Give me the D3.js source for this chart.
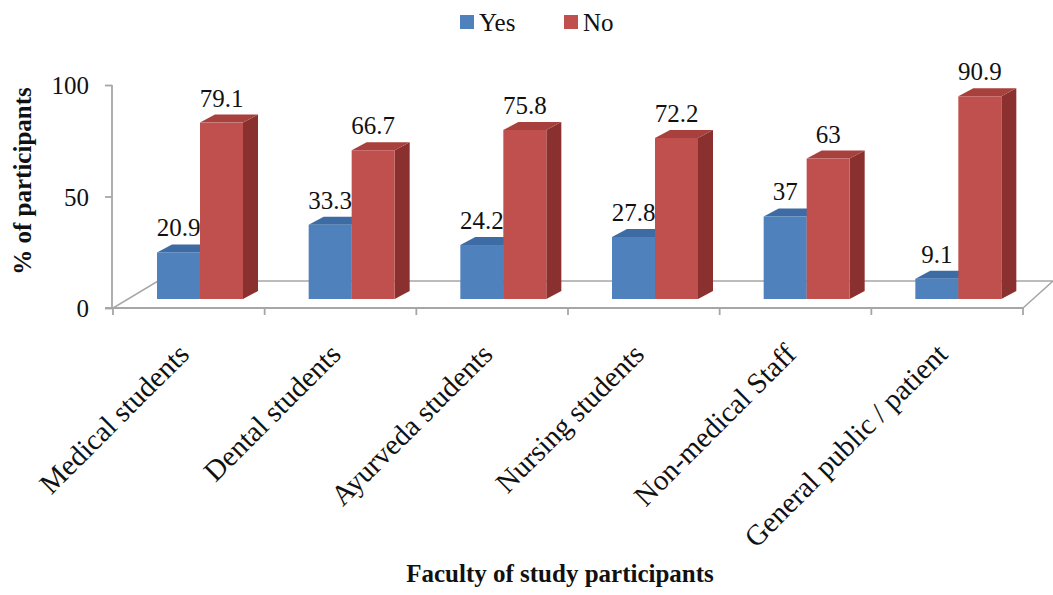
<!DOCTYPE html>
<html>
<head>
<meta charset="utf-8">
<script src="https://cdn.jsdelivr.net/npm/d3@7"></script>
<style>
  html, body { margin: 0; padding: 0; background: #fff; }
  svg { display: block; }
  svg text { font-family: "Liberation Serif", "Times New Roman", serif !important; }
</style>
</head>
<body>
<svg id="chart" width="1053" height="595"></svg>
<script>
// Faculty groups and the share of each answer (%)
const categories = ["Medical students", "Dental students", "Ayurveda students",
                    "Nursing students", "Non-medical Staff", "General public / patient"];
const seriesNames = ["Yes", "No"];
const yesValues = [20.9, 33.3, 24.2, 27.8, 37, 9.1];
const noValues  = [79.1, 66.7, 75.8, 72.2, 63, 90.9];
const yTicks = [0, 50, 100];

const data = categories.map((c, i) => ({ cat: c, values: [yesValues[i], noValues[i]] }));

const svg = d3.select("#chart");

// Front plane of the floor and the axis
const plotLeft = 113, plotRight = 1023;
const floorFront = 308, floorBack = 281;
const axisX = 112;

const x = d3.scaleBand().domain(categories).range([plotLeft, plotRight]).padding(0);
// axis scale (front edge of the floor) and bar scale (bars stand a little deeper)
const yAxisScale = d3.scaleLinear().domain([0, 100]).range([floorFront, 85]);
const barBase = 299;
const yBar = d3.scaleLinear().domain([0, 100]).range([barBase, barBase - (floorFront - 85)]);

const barOffset = 44, barW = 43;
const depthX = 15, depthY = -8;

const colors = {
  Yes: { front: "#4F81BD", top: "#3D6CA5", side: "#345E8E" },
  No:  { front: "#C0504D", top: "#A8403D", side: "#8A302E" }
};

// Floor
svg.append("polygon")
  .attr("points", [[plotLeft, floorFront], [plotRight, floorFront], [1053, floorBack], [158, floorBack]].join(" "))
  .attr("fill", "#fff")
  .attr("stroke", "#A6A6A6")
  .attr("stroke-width", 1.5);

// Value axis
const yAxis = d3.axisLeft(yAxisScale).tickValues(yTicks).tickSize(7).tickPadding(16)
  .tickFormat(d3.format("d"));
const gy = svg.append("g").attr("transform", `translate(${axisX},0)`).call(yAxis);
gy.select(".domain").attr("stroke", "#A6A6A6").attr("stroke-width", 1.8)
  .attr("d", `M0,${yAxisScale(100)}V${yAxisScale(0)}`);
gy.selectAll(".tick line").attr("stroke", "#A6A6A6").attr("stroke-width", 1.8);
gy.selectAll(".tick text").attr("font-size", 25).attr("fill", "#111").attr("dy", "0.34em");

// Category axis along the front of the floor
const boundaries = categories.map(c => x(c)).concat([plotRight]);
svg.append("line")
  .attr("x1", axisX - 7).attr("x2", plotRight)
  .attr("y1", floorFront).attr("y2", floorFront)
  .attr("stroke", "#A6A6A6").attr("stroke-width", 1.8);
svg.selectAll(".xtick").data(boundaries).enter().append("line")
  .attr("class", "xtick")
  .attr("x1", d => d).attr("x2", d => d)
  .attr("y1", floorFront).attr("y2", floorFront + 7)
  .attr("stroke", "#A6A6A6").attr("stroke-width", 1.8);

// Category labels, slanted
svg.selectAll(".xlabel").data(categories).enter().append("text")
  .attr("class", "xlabel")
  .attr("transform", d => `translate(${x(d) + x.bandwidth() / 2 + 2},356) rotate(-45)`)
  .attr("text-anchor", "end")
  .attr("font-size", 29)
  .attr("fill", "#111")
  .text(d => d);

// 3D bars
const groups = svg.selectAll(".group").data(data).enter().append("g").attr("class", "group");
groups.each(function (d) {
  const g = d3.select(this);
  seriesNames.forEach((s, j) => {
    const v = d.values[j];
    const x0 = x(d.cat) + barOffset + j * barW;
    const x1 = x0 + barW;
    const yt = yBar(v), yb = yBar(0);
    const c = colors[s];
    // side face
    g.append("polygon")
      .attr("points", [[x1, yt], [x1 + depthX, yt + depthY], [x1 + depthX, yb + depthY], [x1, yb]].join(" "))
      .attr("fill", c.side);
    // top face
    g.append("polygon")
      .attr("points", [[x0, yt], [x0 + depthX, yt + depthY], [x1 + depthX, yt + depthY], [x1, yt]].join(" "))
      .attr("fill", c.top);
    // front face
    g.append("rect")
      .attr("x", x0).attr("y", yt)
      .attr("width", barW).attr("height", yb - yt)
      .attr("fill", c.front);
  });
});

// Value labels above each bar
groups.each(function (d) {
  const g = d3.select(this);
  seriesNames.forEach((s, j) => {
    const v = d.values[j];
    const cx = x(d.cat) + barOffset + j * barW + barW / 2;
    g.append("text")
      .attr("x", cx).attr("y", yBar(v) - 16)
      .attr("text-anchor", "middle")
      .attr("font-size", 25)
      .attr("fill", "#111")
      .text(v);
  });
});

// Axis titles
svg.append("text")
  .attr("transform", "translate(31,181) rotate(-90)")
  .attr("text-anchor", "middle")
  .attr("font-size", 25).attr("font-weight", "bold").attr("fill", "#111")
  .text("% of participants");
svg.append("text")
  .attr("x", 560).attr("y", 582)
  .attr("text-anchor", "middle")
  .attr("font-size", 25).attr("font-weight", "bold").attr("fill", "#111")
  .text("Faculty of study participants");

// Legend
const legendPos = [460, 564];
const legend = svg.selectAll(".legend").data(seriesNames).enter().append("g")
  .attr("class", "legend")
  .attr("transform", (d, i) => `translate(${legendPos[i]},15)`);
legend.append("rect").attr("width", 14).attr("height", 14)
  .attr("fill", d => colors[d].front);
legend.append("text").attr("x", 19).attr("y", 16)
  .attr("font-size", 25).attr("fill", "#111")
  .text(d => d);
</script>
</body>
</html>
